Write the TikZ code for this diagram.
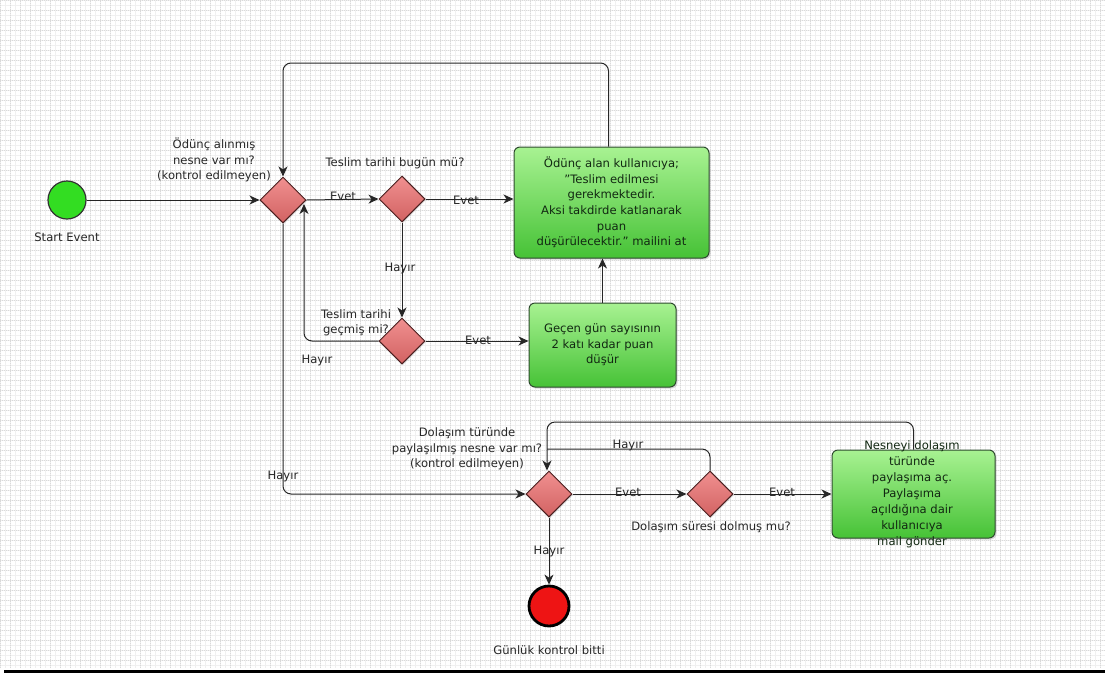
\documentclass[tikz,border=0pt]{standalone}
\usepackage{fontspec}
\setmainfont{DejaVu Sans}
\usetikzlibrary{shapes.geometric,arrows.meta,calc,shadows}
\definecolor{txt}{HTML}{262626}
\definecolor{boxtxt}{HTML}{122812}
\definecolor{gwtop}{HTML}{F09090}
\definecolor{gwbot}{HTML}{D26262}
\definecolor{gwline}{HTML}{4A2020}
\definecolor{actop}{HTML}{A8F292}
\definecolor{acbot}{HTML}{46C236}
\definecolor{acline}{HTML}{2E4A2E}
\definecolor{startfill}{HTML}{33DD22}
\definecolor{endfill}{HTML}{EE1414}
\tikzset{
  x=1pt, y=1pt,
  every node/.style={font=\fontsize{11.6}{15.5}\selectfont, text=txt},
  gateway/.style={diamond, aspect=1, minimum size=46pt, inner sep=0pt,
    draw=gwline, line width=1pt, top color=gwtop, bottom color=gwbot,
    drop shadow={opacity=0.25, shadow xshift=1pt, shadow yshift=-1pt}},
  task/.style={rectangle, rounded corners=6pt, draw=acline, line width=1pt,
    top color=actop, bottom color=acbot, align=center, text=boxtxt,
    font=\fontsize{11.6}{15.7}\selectfont,
    drop shadow={opacity=0.3, shadow xshift=1.5pt, shadow yshift=-1.5pt}},
  startev/.style={circle, minimum size=38pt, inner sep=0pt, draw=black!80,
    line width=1.2pt, fill=startfill},
  endev/.style={circle, minimum size=40pt, inner sep=0pt, draw=black,
    line width=2.8pt, fill=endfill},
  flow/.style={draw=black!85, line width=1pt, -{Stealth[length=10pt,width=9pt,inset=3pt]}},
  plainflow/.style={draw=black!85, line width=1pt},
  gwcap/.style={align=center, text=txt},
  tag/.style={text=txt}
}
\begin{document}
\begin{tikzpicture}
\useasboundingbox (0,0) rectangle (1105,-675);
% paper-like grid background
\fill[white] (0,0) rectangle (1105,-668);
\draw[gray!12, line width=0.3pt, step=5] (0,-668) grid (1105,0);
\draw[gray!30, line width=0.5pt, step=10, dash pattern=on 1pt off 1pt] (0,-668) grid (1105,0);
\draw[black, line width=3pt] (4,-671) -- (1105,-671);

% events
\node[startev] (start) at (67,-200) {};
\node[tag] (startlbl) at (67,-237) {Start Event};
\node[endev] (stop) at (549,-606) {};
\node[tag] (stoplbl) at (549,-650) {Günlük kontrol bitti};

% gateways
\node[gateway] (g1) at (283,-200) {};
\node[gateway] (g2) at (402,-199) {};
\node[gateway] (g3) at (402,-341) {};
\node[gateway] (g4) at (549,-494) {};
\node[gateway] (g5) at (710,-494) {};

% tasks
\node[task, minimum width=195pt, minimum height=111pt] (t1) at (611.5,-202.5)
  {Ödünç alan kullanıcıya;\\"Teslim edilmesi\\gerekmektedir.\\Aksi takdirde katlanarak\\puan\\düşürülecektir." mailini at};
\node[task, minimum width=147pt, minimum height=84pt] (t2) at (602.5,-345)
  {Geçen gün sayısının\\2 katı kadar puan\\düşür};
\node[task, minimum width=163pt, minimum height=88pt] (t3) at (913.5,-494) {};
\node[gwcap, text=boxtxt, font=\fontsize{11.6}{16}\selectfont] (t3txt) at (912,-494)
  {Nesneyi dolaşım\\türünde\\paylaşıma aç.\\Paylaşıma\\açıldığına dair\\kullanıcıya\\mail gönder};

% gateway captions
\node[gwcap] (c1) at (214,-160) {Ödünç alınmış\\nesne var mı?\\(kontrol edilmeyen)};
\node[gwcap] (c2) at (395,-163) {Teslim tarihi bugün mü?};
\node[gwcap] (c3) at (356,-323) {Teslim tarihi\\geçmiş mi?};
\node[gwcap] (c4) at (467,-449) {Dolaşım türünde\\paylaşılmış nesne var mı?\\(kontrol edilmeyen)};
\node[gwcap] (c5) at (711,-527) {Dolaşım süresi dolmuş mu?};

% routing points
\coordinate (topy) at (0,-63);
\coordinate (g1in) at ($(g1.center)+(21,-4)$);
\coordinate (loopy) at (0,-422);
\coordinate (mergey) at (0,-449);

% sequence flows
\draw[flow] (start) -- (g1);
\draw[flow] (g1.east) -- (g2.west);
\draw[flow] (g2.east) -- (g2.east -| t1.west);
\draw[flow] (g2.south) -- (g3.north);
\draw[flow] (g3.east) -- (g3.east -| t2.west);
\draw[flow] (t2.north) -- (t2.north |- t1.south);
\draw[flow, rounded corners=8pt] ([xshift=-3pt]t1.north) -- ([xshift=-3pt]t1.north |- topy)
  -- (g1.north |- topy) -- (g1.north);
\draw[flow, rounded corners=8pt] (g3.west) -| (g1in);
\draw[flow, rounded corners=8pt] (g1.south) |- (g4.west);
\draw[flow] (g4.east) -- (g5.west);
\draw[flow] (g5.east) -- (g5.east -| t3.west);
\draw[flow, rounded corners=8pt] (t3.north) -- (t3.north |- loopy)
  -- ([xshift=-2pt]g4.north |- loopy) -- ([xshift=-2pt]g4.north);
\draw[plainflow, rounded corners=8pt] (g5.north) -- (g5.north |- mergey)
  -- ([xshift=-2pt]g4.north |- mergey);
\draw[flow] (g4.south) -- (stop.north);

% flow labels
\node[tag] (e1) at (343,-196) {Evet};
\node[tag] (e2) at (466,-200) {Evet};
\node[tag] (h1) at (400,-268) {Hayır};
\node[tag] (e3) at (478,-340) {Evet};
\node[tag] (h2) at (317,-360) {Hayır};
\node[tag] (h3) at (283,-476) {Hayır};
\node[tag] (e4) at (628,-492) {Evet};
\node[tag] (e5) at (782,-492) {Evet};
\node[tag] (h4) at (628,-445) {Hayır};
\node[tag] (h5) at (549,-551) {Hayır};
\end{tikzpicture}
\end{document}
